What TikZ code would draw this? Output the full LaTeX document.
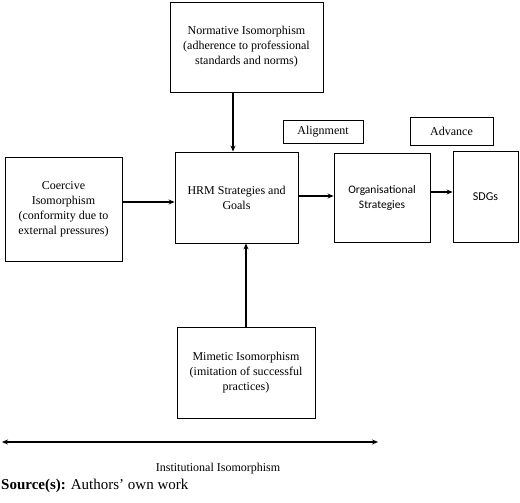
\documentclass[tikz,border=0pt]{standalone}
\usepackage{fontspec}
\setmainfont{Liberation Serif}
\newfontfamily\calibfont{Carlito}
\usetikzlibrary{arrows.meta}
\begin{document}
\begin{tikzpicture}[x=1pt,y=-1pt,
  box/.style={draw=black,line width=0.9pt,rectangle,align=center,inner sep=0pt,
    font=\fontsize{12}{15}\selectfont},
  arr/.style={line width=1.1pt,-{Stealth[length=6pt,width=5pt]}},
  lbl/.style={inner sep=0pt,font=\fontsize{12}{15}\selectfont}]
\useasboundingbox (0,0) rectangle (520,503);
\node[box,minimum width=153pt,minimum height=90pt] (norm) at (246.5,47)
  {Normative Isomorphism\\(adherence to professional\\standards and norms)};
\node[box,minimum width=117pt,minimum height=104pt] (coer) at (63.5,209)
  {Coercive\\Isomorphism\\(conformity due to\\external pressures)};
\node[box,minimum width=123pt,minimum height=91pt] (hrm) at (236.5,197.5)
  {HRM Strategies and\\Goals};
\node[box,minimum width=96pt,minimum height=89pt,font=\calibfont\fontsize{11.5}{15}\selectfont] (org) at (382,197.5)
  {Organisational\\Strategies};
\node[box,minimum width=65pt,minimum height=91pt,font=\calibfont\fontsize{12}{15}\selectfont] (sdg) at (485.5,196.5)
  {SDGs};
\node[box,minimum width=80pt,minimum height=23pt] (align) at (323,131.5) {Alignment};
\node[box,minimum width=83pt,minimum height=28pt] (adv) at (451.5,131) {Advance};
\node[box,minimum width=138pt,minimum height=91pt] (mim) at (246,372.5)
  {Mimetic Isomorphism\\(imitation of successful\\practices)};
\draw[arr] (norm.south -| 233,0) -- (hrm.north -| 233,0);
\draw[arr] (mim.north) -- (hrm.south -| mim.north);
\draw[arr] (coer.east |- 0,202) -- (hrm.west |- 0,202);
\draw[arr] (hrm.east |- 0,196) -- (org.west |- 0,196);
\draw[arr] (org.east |- 0,192) -- (sdg.west |- 0,192);
\coordinate (L) at (2,442);
\coordinate (R) at (378,442);
\draw[line width=1.1pt,{Stealth[length=6pt,width=5pt]}-{Stealth[length=6pt,width=5pt]}] (L) -- (R);
\node[lbl] (inst) at (218,469) {Institutional Isomorphism};
\node[lbl,anchor=west,font=\fontsize{15}{18}\selectfont] (src) at (1,486) {\textbf{Source(s):} Authors’ own work};
\end{tikzpicture}
\end{document}
